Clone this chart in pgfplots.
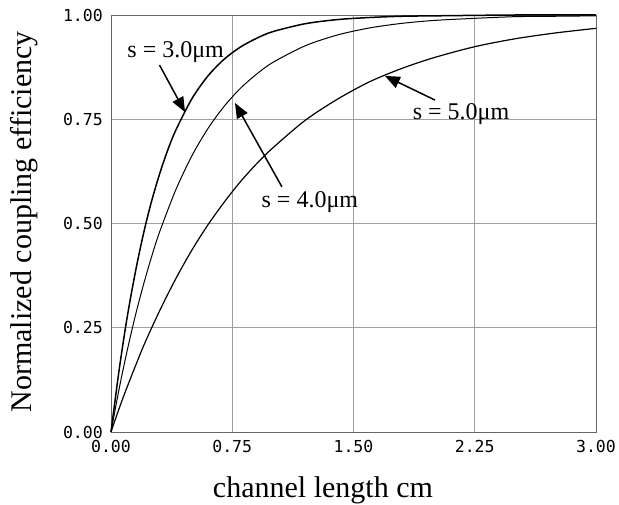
\documentclass[border=0pt]{standalone}
\usepackage{fontspec}
\setmainfont{Liberation Serif}
\setmonofont{DejaVu Sans Mono}
\usepackage{pgfplots}
\pgfplotsset{compat=1.18}
\usetikzlibrary{arrows.meta}

\begin{document}
\begin{tikzpicture}
\begin{axis}[
    scale only axis,
    width=485pt, height=417pt,
    xmin=0, xmax=3, ymin=0, ymax=1,
    xtick={0,0.75,1.5,2.25,3},
    ytick={0,0.25,0.5,0.75,1},
    xticklabels={0.00,0.75,1.50,2.25,3.00},
    yticklabels={0.00,0.25,0.50,0.75,1.00},
    major tick length=0pt,
    grid=major,
    grid style={gray!75, line width=0.8pt},
    axis line style={gray!80!black, line width=0.8pt},
    tick label style={font=\fontsize{16.5}{18}\selectfont\ttfamily, inner sep=0pt},
    xticklabel style={yshift=-8pt},
    yticklabel style={xshift=-8pt},
    xlabel={channel length cm},
    ylabel={Normalized coupling efficiency},
    label style={font=\fontsize{30}{32}\selectfont},
    xlabel style={at={(axis description cs:0.437,-0.158)}, anchor=base},
    ylabel style={at={(axis description cs:-0.163,0.504)}, anchor=base, rotate=0},
    clip=false,
]
% s = 3.0 um
\addplot[black, line width=1.5pt, smooth] coordinates {
(0,0) (0.05,0.148) (0.1,0.275) (0.15,0.382) (0.2,0.474) (0.25,0.552)
(0.3,0.618) (0.35,0.675) (0.4,0.723) (0.5,0.799) (0.6,0.854) (0.7,0.894)
(0.8,0.923) (0.9,0.944) (1.0,0.960) (1.2,0.979) (1.4,0.989) (1.6,0.994)
(1.8,0.997) (2.0,0.998) (2.5,1.000) (3.0,1.000)
};
% s = 4.0 um
\addplot[black, line width=1.0pt, smooth] coordinates {
(0,0) (0.05,0.103) (0.1,0.195) (0.15,0.278) (0.2,0.352) (0.25,0.419)
(0.3,0.479) (0.4,0.580) (0.5,0.662) (0.6,0.728) (0.7,0.781) (0.8,0.824)
(0.9,0.858) (1.0,0.886) (1.2,0.926) (1.4,0.952) (1.6,0.969) (1.8,0.980)
(2.0,0.987) (2.25,0.992) (2.5,0.996) (2.75,0.997) (3.0,0.998)
};
% s = 5.0 um
\addplot[black, line width=1.2pt, smooth] coordinates {
(0,0) (0.05,0.056) (0.1,0.108) (0.2,0.205) (0.3,0.290) (0.4,0.367)
(0.5,0.436) (0.6,0.497) (0.7,0.551) (0.8,0.600) (0.9,0.643) (1.0,0.681)
(1.2,0.747) (1.4,0.798) (1.6,0.840) (1.8,0.872) (2.0,0.898) (2.25,0.924)
(2.5,0.943) (2.75,0.957) (3.0,0.968)
};

\tikzset{lbl/.style={font=\fontsize{24}{26}\selectfont, inner sep=1pt},
         arr/.style={line width=1.5pt, -{Triangle[length=15pt,width=12pt]}}}
\draw[arr] (axis cs:0.30,0.880) -- (axis cs:0.458,0.767);
\draw[arr] (axis cs:1.057,0.588) -- (axis cs:0.767,0.789);
\draw[arr] (axis cs:2.004,0.796) -- (axis cs:1.694,0.854);
\node[lbl] at (axis cs:0.40,0.911) {s = 3.0μm};
\node[lbl] at (axis cs:1.23,0.552) {s = 4.0μm};
\node[lbl] at (axis cs:2.165,0.763) {s = 5.0μm};
\end{axis}
\pgfresetboundingbox
\path (-111pt,-72pt) rectangle (508pt,432pt);
\end{tikzpicture}
\end{document}
